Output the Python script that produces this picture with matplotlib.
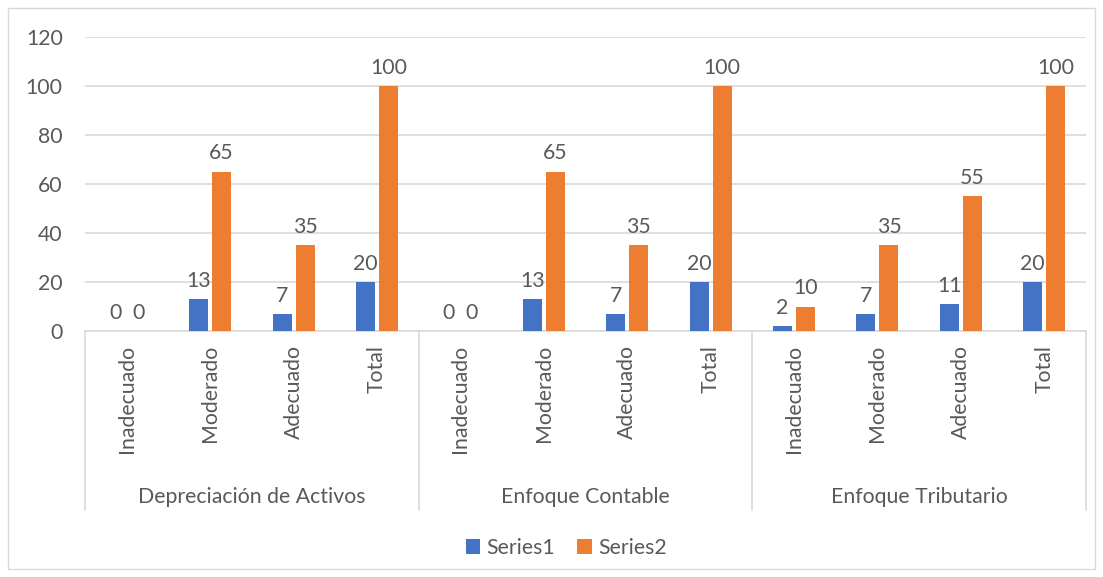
import matplotlib
matplotlib.use("Agg")
import matplotlib.pyplot as plt
import matplotlib.transforms as mtransforms
from matplotlib.patches import Rectangle

plt.rcParams['font.family'] = ['Lato', 'DejaVu Sans']

groups = ["Depreciación de Activos", "Enfoque Contable", "Enfoque Tributario"]
levels = ["Inadecuado", "Moderado", "Adecuado", "Total"]
series1 = [0, 13, 7, 20, 0, 13, 7, 20, 2, 7, 11, 20]
series2 = [0, 65, 35, 100, 0, 65, 35, 100, 10, 35, 55, 100]
yticks = [0, 20, 40, 60, 80, 100, 120]

blue = "#4472C4"
orange = "#ED7D31"
txt = "#595959"
grid = "#D9D9D9"
fs = 15.3

W, H = 1103, 577
fig = plt.figure(figsize=(W / 100, H / 100), dpi=100)
fig.patches.append(Rectangle((8 / W, 8 / H), 1 - 16 / W, 1 - 16 / H, transform=fig.transFigure,
                             fill=False, edgecolor=grid, lw=1.0))
ax = fig.add_axes([85 / W, 1 - 331 / H, (1086 - 85) / W, (331 - 37) / H])

n = len(series1)
x = list(range(n))
bw = 0.228
off = 0.138
b1 = ax.bar([i - off for i in x], series1, bw, color=blue, label="Series1", zorder=3)
b2 = ax.bar([i + off for i in x], series2, bw, color=orange, label="Series2", zorder=3)

for rects, vals in ((b1, series1), (b2, series2)):
    for r, v in zip(rects, vals):
        ax.annotate(str(v), (r.get_x() + r.get_width() / 2, v), xytext=(0, 6),
                    textcoords="offset points", ha="center", va="bottom",
                    fontsize=fs, color=txt)

ax.set_xlim(-0.5, n - 0.5)
ax.set_ylim(0, 120)
ax.set_yticks(yticks)
ax.tick_params(axis="y", length=0, pad=16, labelsize=fs, labelcolor=txt)
ax.set_xticks([])
for s in ["top", "right", "left"]:
    ax.spines[s].set_visible(False)
ax.spines["bottom"].set_color(grid)
ax.spines["bottom"].set_linewidth(1.2)
ax.yaxis.grid(True, color=grid, lw=1.2, zorder=0)
ax.set_axisbelow(True)

trans = mtransforms.blended_transform_factory(ax.transData, ax.transAxes)
axh = 331 - 37
for b in [-0.5, 3.5, 7.5, 11.5]:
    ax.plot([b, b], [0, -(510 - 331) / axh], transform=trans, color=grid, lw=1.2, clip_on=False)

for i in x:
    ax.text(i, -(345 - 331) / axh, levels[i % 4], rotation=90, ha="center", va="top",
            transform=trans, fontsize=fs, color=txt)
for g, name in enumerate(groups):
    ax.text(g * 4 + 1.5, -(497 - 331) / axh, name, ha="center", va="center",
            transform=trans, fontsize=fs, color=txt)

leg = fig.legend(handles=[b1, b2], labels=["Series1", "Series2"], loc="center",
                 bbox_to_anchor=(566 / W, 1 - 548 / H), ncol=2, frameon=False,
                 fontsize=fs, handlelength=0.7, handleheight=0.7, handletextpad=0.3,
                 columnspacing=1.0)
for t in leg.get_texts():
    t.set_color(txt)

fig.savefig("out.png", dpi=100)
